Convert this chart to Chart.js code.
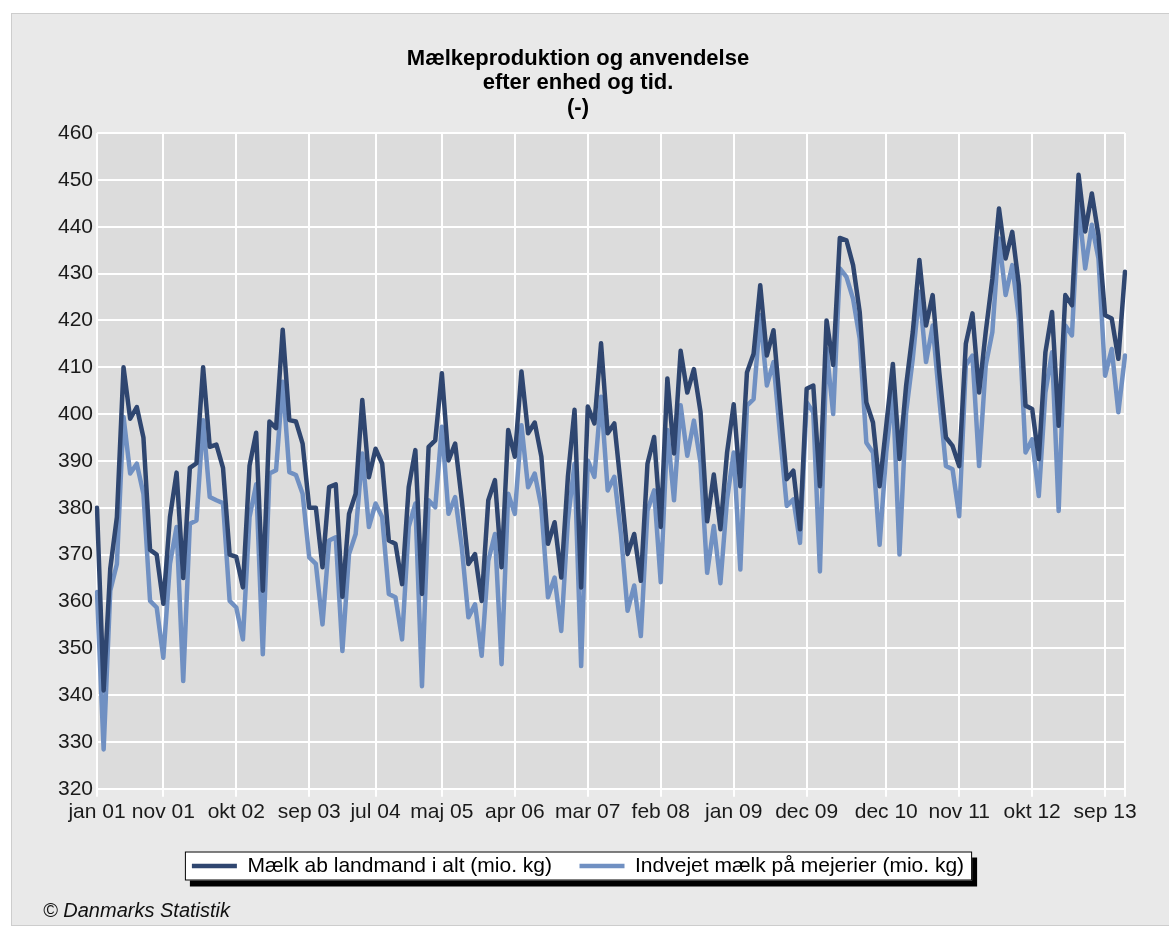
<!DOCTYPE html>
<html lang="da">
<head>
<meta charset="utf-8">
<title>Mælkeproduktion og anvendelse</title>
<script src="https://cdn.jsdelivr.net/npm/chart.js@4/dist/chart.umd.min.js"></script>
<style>
  html, body { margin: 0; padding: 0; background: #fff; }
  body { width: 1169px; height: 932px; overflow: hidden; position: relative; font-family: "Liberation Sans", Arial, sans-serif; }
  #ramme { position: absolute; left: 11px; top: 13px; width: 1170px; height: 911px; background: #e9e9e9; border: 1px solid #cdcdcd; }
  #graf-boks { position: absolute; left: 0; top: 0; width: 1157px; height: 891px; }
  #kilde { position: absolute; left: 31px; top: 884px; font-size: 20px; font-style: italic; color: #111; line-height: 24px; }
</style>
</head>
<body>
<div id="ramme">
  <div id="graf-boks"><canvas id="grafik"></canvas></div>
  <div id="kilde">© Danmarks Statistik</div>
</div>
<script>
// maaneder og aar (jan 2001 - dec 2013)
var mdr = ['jan', 'feb', 'mar', 'apr', 'maj', 'jun', 'jul', 'aug', 'sep', 'okt', 'nov', 'dec'];
var aar = ['01', '02', '03', '04', '05', '06', '07', '08', '09', '10', '11', '12', '13'];
var perioder = [];
aar.forEach(function (a) {
  mdr.forEach(function (m) { perioder.push(m + ' ' + a); });
});

// de perioder der har en etiket paa x-aksen
var aksemaerker = ['jan 01', 'nov 01', 'okt 02', 'sep 03', 'jul 04', 'maj 05', 'apr 06', 'mar 07',
  'feb 08', 'jan 09', 'dec 09', 'dec 10', 'nov 11', 'okt 12', 'sep 13'];

// Mælk ab landmand i alt (mio. kg)
var landmand = [
  380, 341, 367, 378, 410, 399, 401.5, 395, 371, 370, 359.5, 378,
  387.5, 365, 388.5, 389.5, 410, 393, 393.5, 388.5, 370, 369.5, 363, 389,
  396, 362.3, 398.4, 397, 418, 398.7, 398.4, 393.7, 380, 380, 367.3, 384.4,
  385, 361, 378.7, 383, 403, 386.5, 392.6, 389.4, 373, 372.3, 363.7, 384.4,
  392.3, 361.6, 393, 394.4, 408.7, 390.1, 393.7, 381.6, 368, 370.1, 360.1, 381.6,
  385.9, 367.3, 396.6, 390.9, 409.1, 395.9, 398.2, 390.9, 372.3, 376.9, 365.1, 386.6,
  400.9, 363, 401.6, 398, 415.1, 395.9, 398, 384.4, 370.1, 374.4, 364.4, 389.4,
  395.1, 375.9, 407.6, 391.6, 413.5, 404.6, 409.6, 400.4, 377.1, 387.1, 375.4, 391.8,
  402.1, 384.6, 408.9, 412.9, 427.5, 412.5, 417.9, 401.8, 386.1, 387.9, 375.4, 405.4,
  406.1, 384.6, 420, 410.5, 437.6, 437.1, 431.8, 421.8, 402.5, 398.2, 384.6, 397.5,
  410.7, 390.4, 406.1, 417.5, 432.9, 418.9, 425.4, 408.9, 395, 393.2, 388.9, 415,
  421.5, 404.6, 417.5, 428.9, 443.9, 433.2, 438.9, 427.5, 401.8, 401.1, 390.4, 413.2,
  421.8, 397.5, 425.4, 423.2, 451.1, 439, 447.1, 438.2, 421.1, 420.4, 411.8, 430.4
];

// Indvejet mælk på mejerier (mio. kg)
var mejerier = [
  362, 328.4, 362.3, 368, 399.4, 387.3, 389.4, 383, 360.1, 358.7, 348, 368,
  375.9, 343, 376.6, 377.3, 398.7, 382.3, 381.6, 381, 360.1, 358.7, 351.9, 378,
  385, 348.7, 387.3, 388, 406.9, 387.6, 387, 383, 369.4, 368, 355.1, 373,
  373.7, 349.4, 370.1, 374.4, 391.6, 375.9, 380.9, 378, 361.6, 360.9, 351.9, 375.9,
  380.9, 341.9, 381.6, 380.1, 397.3, 378.7, 382.3, 371.6, 356.6, 359.4, 348.4, 368.7,
  374.4, 346.6, 383, 378.7, 397.6, 384.4, 387.3, 380.1, 360.9, 365.1, 353.7, 377.3,
  389.4, 346.2, 390.1, 386.6, 403.7, 383.7, 386.6, 374.4, 358, 363.4, 352.6, 379.4,
  383.7, 364.1, 396.6, 381.6, 401.9, 391.1, 398.6, 389.6, 366.1, 376.1, 363.9, 381.8,
  391.8, 366.8, 401.8, 403.2, 421.1, 406.1, 411.1, 395.4, 380.4, 381.8, 372.5, 402.5,
  400.4, 366.4, 413.9, 400, 431.1, 429.3, 424.6, 416.1, 393.9, 391.8, 372.1, 391.8,
  404.6, 370, 400.4, 411.8, 426.1, 411.1, 418.9, 403.2, 388.9, 388.2, 378.2, 410.4,
  412.5, 388.9, 410.4, 417.5, 437.5, 425.4, 431.8, 420.4, 391.8, 394.6, 382.5, 404.6,
  413.2, 379.3, 418.9, 416.8, 444.6, 431.1, 440.4, 433.2, 408.2, 413.9, 400.4, 412.5
];

// graa baggrund i plotomraadet og hvid boks med skygge bag forklaringen
var baggrund = {
  id: 'baggrund',
  beforeDraw: function (chart) {
    var ctx = chart.ctx;
    var a = chart.chartArea;
    ctx.save();
    ctx.fillStyle = '#dcdcdc';
    ctx.fillRect(a.left, a.top, a.right - a.left, a.bottom - a.top);
    var hb = chart.legend.legendHitBoxes;
    if (hb && hb.length) {
      var x0 = hb[0].left - 7;
      var x1 = hb[hb.length - 1].left + hb[hb.length - 1].width + 8;
      var y0 = hb[0].top - 4;
      var y1 = hb[0].top + hb[0].height + 4;
      ctx.fillStyle = '#000';
      ctx.fillRect(x0 + 5, y0 + 6, x1 - x0, y1 - y0); // skygge
      ctx.fillStyle = '#fff';
      ctx.fillRect(x0, y0, x1 - x0, y1 - y0);
      ctx.strokeStyle = '#000';
      ctx.lineWidth = 1;
      ctx.strokeRect(x0 + 0.5, y0 + 0.5, x1 - x0 - 1, y1 - y0 - 1);
    }
    ctx.restore();
  }
};

Chart.defaults.font.family = '"Liberation Sans", Arial, sans-serif';
Chart.defaults.font.size = 21;
Chart.defaults.color = '#1a1a1a';

var ctx = document.getElementById('grafik').getContext('2d');
var grafMaelk = new Chart(ctx, {
  type: 'line',
  data: {
    labels: perioder,
    datasets: [{
      label: 'Mælk ab landmand i alt (mio. kg)',
      data: landmand,
      borderColor: '#2f4670',
      backgroundColor: '#2f4670',
      borderWidth: 4.5,
      borderJoinStyle: 'round',
      borderCapStyle: 'round',
      pointRadius: 0,
      tension: 0
    }, {
      label: 'Indvejet mælk på mejerier (mio. kg)',
      data: mejerier,
      borderColor: '#7090c2',
      backgroundColor: '#7090c2',
      borderWidth: 4.5,
      borderJoinStyle: 'round',
      borderCapStyle: 'round',
      pointRadius: 0,
      tension: 0
    }]
  },
  options: {
    responsive: true,
    maintainAspectRatio: false,
    animation: false,
    layout: { padding: { left: 19, right: 44, top: 0, bottom: 18.5 } },
    plugins: {
      title: {
        display: true,
        text: ['Mælkeproduktion og anvendelse', 'efter enhed og tid.', '(-)'],
        color: '#000',
        font: { size: 22, weight: 'bold', lineHeight: 1.114 },
        padding: { top: 32.5, bottom: 13 }
      },
      legend: {
        position: 'bottom',
        labels: {
          usePointStyle: true,
          pointStyle: 'line',
          pointStyleWidth: 45,
          padding: 27.5,
          color: '#000',
          font: { size: 21 }
        }
      },
      tooltip: { enabled: false }
    },
    scales: {
      x: {
        grid: { color: '#fff', lineWidth: 2, tickLength: 8, tickColor: '#fff' },
        border: { display: false },
        ticks: {
          autoSkip: false,
          maxRotation: 0,
          minRotation: 0,
          padding: 3,
          color: '#1a1a1a',
          callback: function (val, i) {
            var l = perioder[i];
            if (aksemaerker.indexOf(l) >= 0) return l;
            if (i === perioder.length - 1) return ''; // hoejre kant
            return null;
          }
        }
      },
      y: {
        min: 320,
        max: 460,
        afterFit: function (s) { s.width = 66; },
        grid: { color: '#fff', lineWidth: 2, drawTicks: false },
        border: { display: false },
        ticks: { stepSize: 10, padding: 4, color: '#1a1a1a' }
      }
    }
  },
  plugins: [baggrund]
});
</script>
</body>
</html>
